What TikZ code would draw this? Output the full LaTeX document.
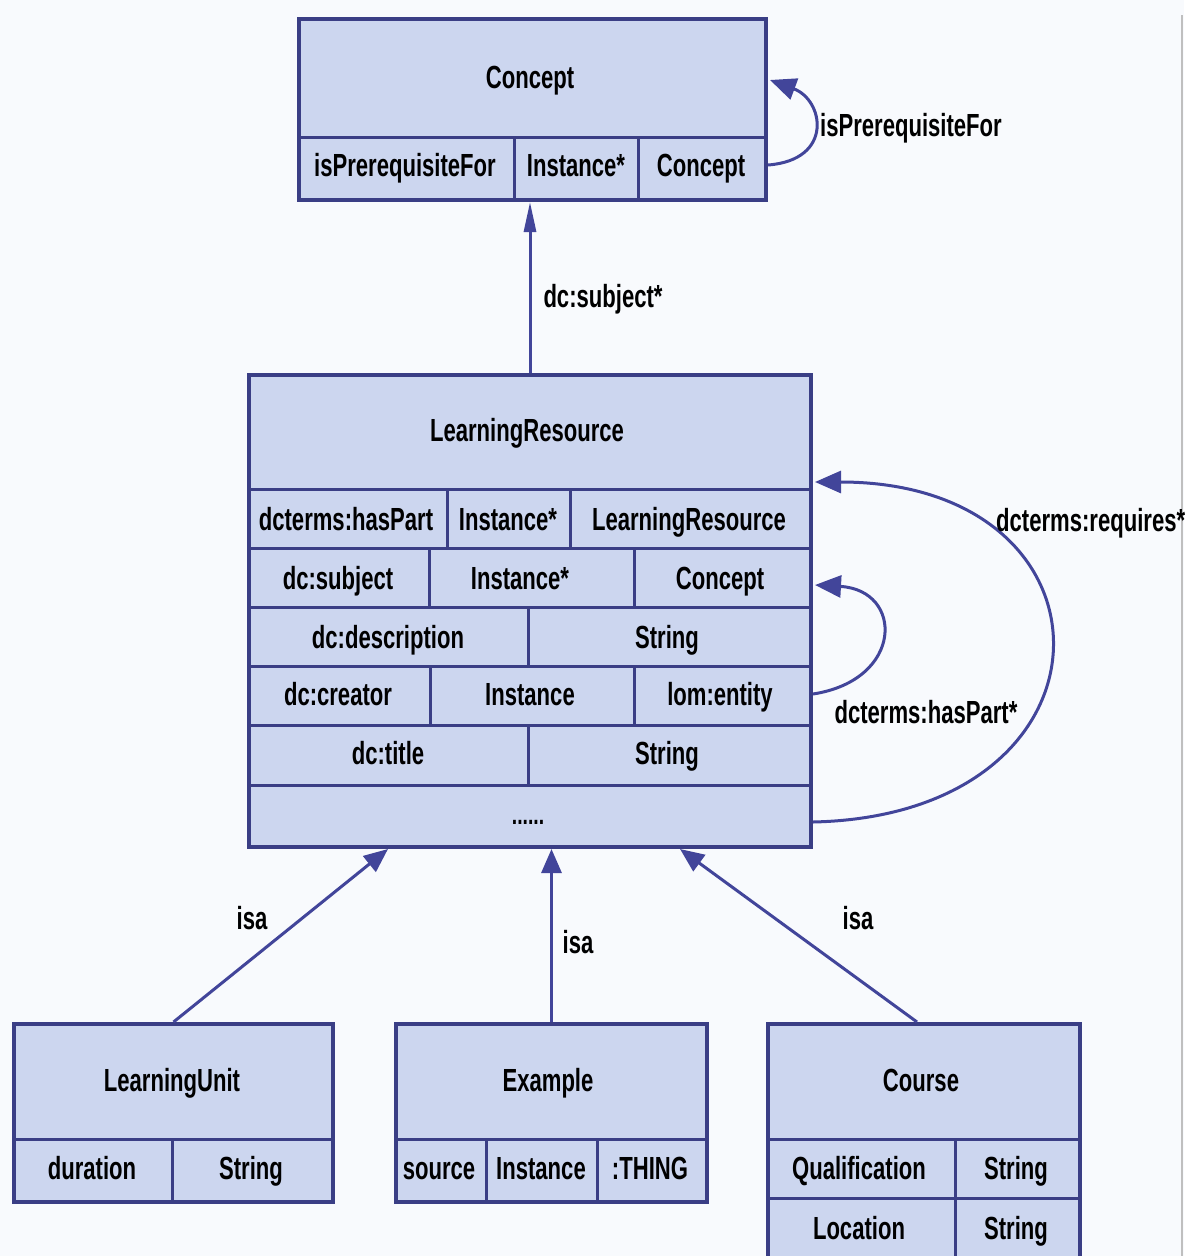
\documentclass[tikz,border=0pt]{standalone}
\usepackage{fontspec}
\setmainfont[FakeStretch=0.69]{Liberation Sans}
\usetikzlibrary{arrows.meta,calc}
\definecolor{bd}{HTML}{3A3E85}
\definecolor{fl}{HTML}{CCD6EF}
\definecolor{arc}{HTML}{42459A}
\definecolor{bg}{HTML}{F8FAFD}
\newcommand\lblfont{\fontsize{32}{38}\selectfont\bfseries}
\tikzset{
  box/.style={draw=bd, fill=fl, line width=4pt, rectangle, anchor=north west, inner sep=0pt},
  cell/.style={draw=bd, line width=3pt},
  txt/.style={font=\lblfont, text=black, inner sep=0pt, text height=23pt, text depth=0pt},
  conn/.style={draw=arc, line width=3pt, -{Triangle[length=24pt,width=20pt]}},
  loopc/.style={draw=arc, line width=3pt, -{Triangle[length=26pt,width=22pt]}},
}
\begin{document}
\begin{tikzpicture}[x=1pt,y=-1pt]
\clip (0,0) rectangle (1184,1256);
\fill[bg] (0,0) rectangle (1184,1256);
\draw[gray!50, line width=1.5pt] (1182,15) -- (1182,1256);

% ---------- Concept ----------
\node[box, minimum width=467pt, minimum height=181pt] (concept) at (297,17) {};
\draw[cell] (297,137) -- (764,137);
\draw[cell] (514,137) -- (514,198);
\draw[cell] (638,137) -- (638,198);
\node[txt] (conceptT) at (530,77) {Concept};
\node[txt] (cA) at (405,165) {isPrerequisiteFor};
\node[txt] (cB) at (576,165) {Instance*};
\node[txt] (cC) at (701,165) {Concept};

% ---------- LearningResource ----------
\node[box, minimum width=562pt, minimum height=472pt] (lr) at (247,373) {};
\draw[cell] (247,489) -- (809,489);
\draw[cell] (247,548) -- (809,548);
\draw[cell] (247,607) -- (809,607);
\draw[cell] (247,666) -- (809,666);
\draw[cell] (247,725) -- (809,725);
\draw[cell] (247,785) -- (809,785);
\draw[cell] (447,489) -- (447,548);
\draw[cell] (570,489) -- (570,548);
\draw[cell] (429,548) -- (429,607);
\draw[cell] (634,548) -- (634,607);
\draw[cell] (528,607) -- (528,666);
\draw[cell] (430,666) -- (430,725);
\draw[cell] (634,666) -- (634,725);
\draw[cell] (528,725) -- (528,785);
\node[txt] (lrT) at (527,430) {LearningResource};
\node[txt] (r1a) at (346,519) {dcterms:hasPart};
\node[txt] (r1b) at (508,519) {Instance*};
\node[txt] (r1c) at (689,519) {LearningResource};
\node[txt] (r2a) at (338,578) {dc:subject};
\node[txt] (r2b) at (520,578) {Instance*};
\node[txt] (r2c) at (720,578) {Concept};
\node[txt] (r3a) at (388,637) {dc:description};
\node[txt] (r3b) at (667,637) {String};
\node[txt] (r4a) at (338,694) {dc:creator};
\node[txt] (r4b) at (530,694) {Instance};
\node[txt] (r4c) at (720,694) {lom:entity};
\node[txt] (r5a) at (388,753) {dc:title};
\node[txt] (r5b) at (667,753) {String};
\node[txt, font=\fontsize{28}{30}\selectfont\bfseries, text height=5pt] (r6) at (528,822) {......};

% ---------- LearningUnit ----------
\node[box, minimum width=319pt, minimum height=178pt] (lu) at (12,1022) {};
\draw[cell] (12,1139) -- (331,1139);
\draw[cell] (172,1139) -- (172,1200);
\node[txt] (luT) at (172,1080) {LearningUnit};
\node[txt] (luA) at (92,1168) {duration};
\node[txt] (luB) at (251,1168) {String};

% ---------- Example ----------
\node[box, minimum width=311pt, minimum height=178pt] (ex) at (394,1022) {};
\draw[cell] (394,1139) -- (705,1139);
\draw[cell] (486,1139) -- (486,1200);
\draw[cell] (597,1139) -- (597,1200);
\node[txt] (exT) at (548,1080) {Example};
\node[txt] (exA) at (439,1168) {source};
\node[txt] (exB) at (541,1168) {Instance};
\node[txt] (exC) at (650,1168) {:THING};

% ---------- Course ----------
\node[box, minimum width=312pt, minimum height=240pt] (course) at (766,1022) {};
\draw[cell] (766,1139) -- (1078,1139);
\draw[cell] (766,1198) -- (1078,1198);
\draw[cell] (955,1139) -- (955,1262);
\node[txt] (coT) at (921,1080) {Course};
\node[txt] (coA) at (859,1168) {Qualification};
\node[txt] (coB) at (1016,1168) {String};
\node[txt] (coC) at (859,1228) {Location};
\node[txt] (coD) at (1016,1228) {String};

% ---------- connectors ----------
\draw[conn, -{Triangle[length=30pt,width=12pt]}] (lr.north) -- (lr.north |- concept.south)
  node[txt, pos=0.45, right=12pt] (lsub) {dc:subject*};
\draw[loopc] (concept.east |- cC) .. controls ($(concept.east |- cC)+(66,-5)$) and ($(concept.north east)+(56,83)$) .. ($(concept.north east)+(2,63)$);
\node[txt, anchor=west] (lpre) at (820,125) {isPrerequisiteFor};

\draw[loopc] (lr.east |- r6) .. controls ($(lr.east |- r6)+(316,-7)$) and ($(lr.east |- r1c)+(316,-37)$) .. ($(lr.east |- r1c)+(2,-37)$);
\node[txt, anchor=west] (lreq) at (996,520) {dcterms:requires*};
\draw[loopc] (lr.east |- r4c) .. controls ($(lr.east |- r4c)+(91,-14)$) and ($(lr.east |- r2c)+(91,12)$) .. ($(lr.east |- r2c)+(2,7)$);
\node[txt] (lhas) at (926,712) {dcterms:hasPart*};

\draw[conn] (lu.north) -- ($(lr.south west)+(141,0)$);
\node[txt] (isa1) at (252,918) {isa};
\draw[conn] (ex.north) -- (ex.north |- lr.south);
\node[txt] (isa2) at (578,942) {isa};
\draw[conn] ($(course.north)+(-7,0)$) -- ($(lr.south west)+(433,0)$);
\node[txt] (isa3) at (858,918) {isa};
\end{tikzpicture}
\end{document}
